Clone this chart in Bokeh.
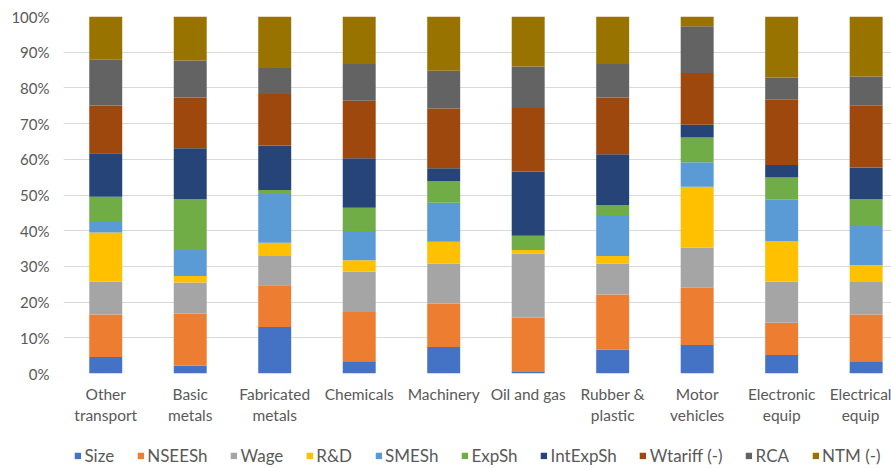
from bokeh.plotting import figure
from bokeh.layouts import column
from bokeh.models import (ColumnDataSource, Range1d, FixedTicker, PrintfTickFormatter,
                          Legend, LegendItem)
from bokeh.embed import file_html
from bokeh.resources import INLINE

# Industries and the share (%) of each determinant
categories = ["Other\ntransport", "Basic\nmetals", "Fabricated\nmetals", "Chemicals",
              "Machinery", "Oil and gas", "Rubber &\nplastic", "Motor\nvehicles",
              "Electronic\nequip", "Electrical\nequip"]

size_v   = [4.6, 2.2, 13.0, 3.4, 7.4, 0.4, 6.7, 8.0, 5.2, 3.4]
nseesh   = [11.9, 14.6, 11.7, 13.8, 12.2, 15.3, 15.4, 16.0, 9.0, 13.1]
wage     = [9.3, 8.7, 8.2, 11.3, 11.2, 17.9, 8.7, 11.2, 11.6, 9.1]
rnd      = [13.7, 1.8, 3.7, 3.2, 6.1, 1.0, 2.1, 17.1, 11.3, 4.7]
smesh    = [3.2, 7.3, 13.7, 8.2, 10.9, 0.0, 11.5, 6.9, 11.7, 11.0]
expsh    = [6.8, 14.2, 1.1, 6.5, 6.1, 4.0, 2.8, 6.9, 6.1, 7.5]
intexpsh = [12.2, 14.3, 12.5, 13.9, 3.6, 18.0, 14.2, 3.6, 3.5, 8.9]
wtariff  = [13.4, 14.2, 14.4, 16.1, 16.7, 17.8, 15.9, 14.5, 18.3, 17.3]
rca      = [12.8, 10.4, 7.3, 10.3, 10.6, 11.6, 9.4, 13.1, 6.2, 8.2]
ntm      = [12.1, 12.3, 14.4, 13.3, 15.2, 14.0, 13.3, 2.7, 17.1, 16.8]

series_keys = ["size", "nseesh", "wage", "rnd", "smesh", "expsh", "intexpsh", "wtariff", "rca", "ntm"]
series_labels = ["Size", "NSEESh", "Wage", "R&D", "SMESh", "ExpSh", "IntExpSh", "Wtariff (-)", "RCA", "NTM (-)"]
series_colors = ["#4472C4", "#ED7D31", "#A5A5A5", "#FFC000", "#5B9BD5",
                 "#70AD47", "#264478", "#9E480E", "#636363", "#997300"]

xpos = [i + 0.5 for i in range(len(categories))]
data = dict(x=xpos, size=size_v, nseesh=nseesh, wage=wage, rnd=rnd, smesh=smesh,
            expsh=expsh, intexpsh=intexpsh, wtariff=wtariff, rca=rca, ntm=ntm)
source = ColumnDataSource(data)

FONT = "Lato"
TEXT = "#595959"

# --- stacked bar chart ---
p = figure(width=891, height=430, output_backend="svg", toolbar_location=None,
           x_range=Range1d(0, 9.8), y_range=Range1d(0, 100),
           min_border_left=63, min_border_right=0, min_border_top=16, min_border_bottom=57)
p.outline_line_color = None
p.background_fill_color = "white"
p.border_fill_color = "white"

renderers = p.vbar_stack(series_keys, x="x", width=0.39, color=series_colors,
                         line_color=None, source=source)

# y axis: percentages
p.yaxis.ticker = FixedTicker(ticks=list(range(0, 101, 10)))
p.yaxis.formatter = PrintfTickFormatter(format="%d%%")
p.yaxis.axis_line_color = None
p.yaxis.major_tick_line_color = None
p.yaxis.minor_tick_line_color = None
p.yaxis.major_label_standoff = 8
p.yaxis.major_label_text_font = FONT
p.yaxis.major_label_text_font_size = "15px"
p.yaxis.major_label_text_color = TEXT

# x axis: industry names
p.xaxis.ticker = FixedTicker(ticks=xpos)
p.xaxis.major_label_overrides = {x: c for x, c in zip(xpos, categories)}
p.xaxis.axis_line_color = None
p.xaxis.major_tick_line_color = None
p.xaxis.minor_tick_line_color = None
p.xaxis.major_label_standoff = 5
p.xaxis.major_label_text_font = FONT
p.xaxis.major_label_text_font_size = "15.5px"
p.xaxis.major_label_text_color = TEXT

p.xgrid.grid_line_color = None
p.ygrid.grid_line_color = "#D9D9D9"
p.ygrid.grid_line_width = 1

# --- legend strip below the chart ---
leg = figure(width=891, height=38, output_backend="svg", toolbar_location=None,
             x_axis_type=None, y_axis_type=None,
             x_range=Range1d(0, 1), y_range=Range1d(0, 1),
             min_border_left=32, min_border_right=0, min_border_top=12, min_border_bottom=0)
leg.outline_line_color = None
leg.grid.grid_line_color = None
leg.background_fill_color = "white"
leg.border_fill_color = "white"

# one placeholder row (NaN, so nothing is plotted) per series, used only for the legend swatches
nan = float("nan")
swatches = [leg.vbar(x=[nan], top=[nan], width=0.1, color=c, line_color=None)
            for c in series_colors]
legend = Legend(items=[LegendItem(label=l, renderers=[r]) for l, r in zip(series_labels, swatches)],
                orientation="horizontal", location="center",
                border_line_color=None, background_fill_alpha=0,
                label_text_font=FONT, label_text_font_size="17px", label_text_color=TEXT,
                glyph_width=8, glyph_height=8, label_standoff=3, spacing=22,
                padding=0, margin=0)
leg.add_layout(legend)

layout = column(p, leg, spacing=0)
open("out.html", "w").write(file_html(layout, INLINE))
